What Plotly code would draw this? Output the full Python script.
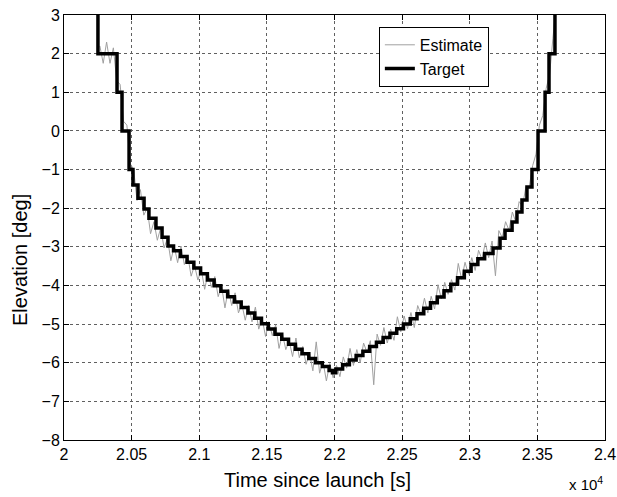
import plotly.graph_objects as go

# ---- Target (stepwise) ----
target_t = [20100, 20251, 20392, 20429, 20481, 20510, 20547, 20592, 20628, 20680, 20725, 20769,
            20810, 20860, 20910, 20960, 21010, 21060, 21110, 21160, 21210, 21260, 21310, 21360,
            21410, 21460, 21510, 21560, 21610, 21660, 21710, 21760, 21810, 21860, 21910, 21960,
            21985, 22010, 22060, 22110, 22160, 22210, 22260, 22310, 22360, 22410, 22460, 22510,
            22560, 22610, 22660, 22710, 22760, 22810, 22860, 22910, 22960, 23010, 23060, 23110,
            23172, 23224, 23261, 23313, 23349, 23386, 23423, 23460, 23505, 23557, 23586, 23630, 23800]
target_v = [4, 2, 1, 0, -1, -1.40, -1.74, -2.02, -2.26, -2.51, -2.75, -2.98,
            -3.10, -3.25, -3.40, -3.55, -3.70, -3.86, -4.01, -4.15, -4.29, -4.43, -4.57, -4.71,
            -4.85, -4.99, -5.13, -5.26, -5.39, -5.52, -5.65, -5.77, -5.89, -6.00, -6.10, -6.20,
            -6.26, -6.16, -6.05, -5.93, -5.81, -5.70, -5.58, -5.47, -5.35, -5.24, -5.12, -5.00,
            -4.86, -4.73, -4.59, -4.45, -4.30, -4.14, -3.97, -3.80, -3.63, -3.46, -3.31, -3.17,
            -3.03, -2.78, -2.57, -2.36, -2.10, -1.79, -1.45, -1.0, 0, 1, 2, 4, 4]

# ---- Estimate (noisy) ----
est_t = [20265, 20290, 20315, 20340, 20365, 20390, 20415, 20440, 20465, 20490,
         20515, 20540, 20565, 20590, 20615, 20640, 20665, 20690, 20715, 20740,
         20765, 20790, 20815, 20840, 20865, 20890, 20915, 20940, 20965, 20990,
         21015, 21040, 21065, 21090, 21115, 21140, 21165, 21190, 21215, 21240,
         21265, 21290, 21315, 21340, 21365, 21390, 21415, 21440, 21465, 21490,
         21515, 21540, 21565, 21590, 21615, 21640, 21665, 21690, 21715, 21740,
         21765, 21790, 21815, 21840, 21865, 21890, 21915, 21940, 21965, 21990,
         22015, 22040, 22065, 22090, 22115, 22140, 22165, 22190, 22215, 22240,
         22265, 22290, 22315, 22340, 22365, 22390, 22415, 22440, 22465, 22490,
         22515, 22540, 22565, 22590, 22615, 22640, 22665, 22690, 22715, 22740,
         22765, 22790, 22815, 22840, 22865, 22890, 22915, 22940, 22965, 22990,
         23015, 23040, 23065, 23090, 23115, 23140, 23165, 23190, 23215, 23240,
         23265, 23290, 23315, 23340, 23365, 23390, 23415, 23440, 23465, 23490,
         23515, 23540, 23565, 23590, 23615, 23640]
est_v = [2.2, 1.75, 2.3, 1.75, 2.15, 1.3, 1.2, 0.25, 0.15, -0.85,
         -1.0, -1.8, -1.52, -2.18, -2.0, -2.66, -2.35, -2.83, -2.51, -3.03,
         -2.78, -3.36, -2.98, -3.41, -2.98, -3.46, -3.23, -3.76, -3.48, -3.86,
         -3.58, -4.10, -3.68, -4.05, -3.77, -4.29, -4.01, -4.58, -4.10, -4.52,
         -4.19, -4.71, -4.48, -4.90, -4.52, -4.94, -4.56, -5.13, -4.85, -5.32,
         -4.94, -5.30, -5.02, -5.63, -5.25, -5.66, -5.43, -5.84, -5.36, -5.87,
         -5.58, -6.04, -5.75, -6.21, -5.46, -6.27, -5.97, -6.47, -6.02, -6.39,
         -6.07, -6.36, -5.85, -6.14, -5.63, -6.07, -5.66, -6.00, -5.49, -5.73,
         -5.43, -6.57, -5.26, -5.55, -5.09, -5.49, -5.13, -5.42, -4.81, -5.20,
         -4.79, -5.12, -4.70, -5.09, -4.52, -4.75, -4.33, -4.71, -4.28, -4.61,
         -3.98, -4.35, -3.92, -4.23, -3.85, -4.12, -3.43, -3.84, -3.40, -3.71,
         -3.28, -3.61, -3.09, -3.32, -2.90, -3.28, -2.85, -3.75, -2.58, -2.76,
         -2.35, -2.57, -2.10, -2.35, -1.83, -1.95, -1.45, -1.45, -0.9, -0.6,
         0.15, 0.4, 1.1, 1.45, 2.4, 3.3]

x_tickvals = [20000, 20500, 21000, 21500, 22000, 22500, 23000, 23500, 24000]
x_ticktext = ["2", "2.05", "2.1", "2.15", "2.2", "2.25", "2.3", "2.35", "2.4"]
y_tickvals = [3, 2, 1, 0, -1, -2, -3, -4, -5, -6, -7, -8]

FONT = "Arial, Liberation Sans, sans-serif"

fig = go.Figure()
fig.add_trace(go.Scatter(x=est_t, y=est_v, mode="lines", name="Estimate",
                         line=dict(color="#a0a0a0", width=1)))
fig.add_trace(go.Scatter(x=target_t, y=target_v, mode="lines", name="Target",
                         line=dict(color="black", width=3.5, shape="hv")))

axis_common = dict(showline=True, linecolor="black", linewidth=1, mirror="ticks",
                   ticks="inside", ticklen=5, tickcolor="black", automargin=False,
                   showgrid=True, gridcolor="#606060", gridwidth=1, griddash="dot",
                   zeroline=False, tickfont=dict(family=FONT, size=16, color="black"))

fig.update_layout(
    width=617, height=497,
    margin=dict(l=64, r=12, t=15, b=57),
    paper_bgcolor="white", plot_bgcolor="white",
    showlegend=True,
    legend=dict(x=0.582, y=0.972, xanchor="left", yanchor="top",
                bgcolor="white", bordercolor="black", borderwidth=1,
                font=dict(family=FONT, size=16, color="black"),
                tracegroupgap=0, itemwidth=30),
    xaxis=dict(range=[20000, 24000], tickvals=x_tickvals, ticktext=x_ticktext,
               **axis_common),
    yaxis=dict(range=[-8, 3], tickvals=y_tickvals, **axis_common),
    annotations=[
        dict(text="Time since launch [s]", xref="paper", yref="paper", x=0.4695, y=-0.094,
             xanchor="center", yanchor="middle", showarrow=False,
             font=dict(family=FONT, size=20, color="black")),
        dict(text="Elevation [deg]", xref="paper", yref="paper", x=-0.0813, y=0.4235,
             xanchor="center", yanchor="middle", showarrow=False, textangle=-90,
             font=dict(family=FONT, size=20, color="black")),
        dict(text="x 10<sup>4</sup>", xref="paper", yref="paper", x=1.0, y=-0.1294,
             xanchor="right", yanchor="bottom", showarrow=False,
             font=dict(family=FONT, size=15, color="black")),
    ],
)

fig.write_html("out.html")
